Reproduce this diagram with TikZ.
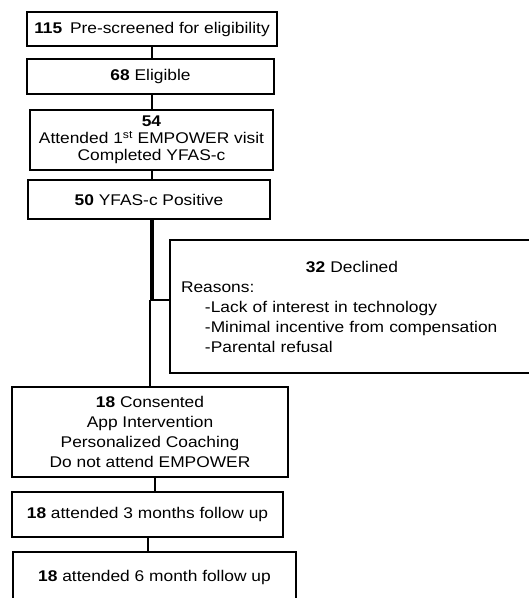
\documentclass[tikz,border=0pt]{standalone}
\usepackage{fontspec}
\setmainfont[FakeStretch=1.12]{Liberation Sans}
\begin{document}
\begin{tikzpicture}[x=1pt,y=-1pt,
  box/.style={draw, line width=2.3pt, align=center, inner sep=0pt,
    font=\fontsize{15.5}{20}\selectfont},
  link/.style={line width=1.6pt},
  thicklink/.style={line width=4.2pt}]
\useasboundingbox (0,0) rectangle (529,598);
\clip (0,0) rectangle (529,598);
\node[box, minimum width=250pt, minimum height=34pt] (b1) at (152,29)
  {\textbf{115}\enspace Pre-screened for eligibility};
\node[box, minimum width=247pt, minimum height=35pt] (b2) at (150.5,76.5)
  {\textbf{68} Eligible};
\node[box, minimum width=243pt, minimum height=60pt,
  font=\fontsize{15.5}{17}\selectfont] (b3) at (151.5,140)
  {\textbf{54}\\Attended 1\textsuperscript{st} EMPOWER visit\\Completed YFAS-c};
\node[box, minimum width=242pt, minimum height=39pt] (b4) at (149,199.5)
  {\textbf{50} YFAS-c Positive};
\node[box, minimum width=364pt, minimum height=133pt, text width=342pt,
  align=left] (dec) at (352,306.5)
  {\noindent\makebox[342pt]{\textbf{32} Declined}\\
   Reasons:\\
   \hspace*{24pt}-Lack of interest in technology\\
   \hspace*{24pt}-Minimal incentive from compensation\\
   \hspace*{24pt}-Parental refusal};
\node[box, minimum width=276pt, minimum height=90pt] (b5) at (150,432)
  {\textbf{18} Consented\\App Intervention\\Personalized Coaching\\Do not attend EMPOWER};
\node[box, minimum width=271pt, minimum height=45pt] (b6) at (147.5,514.5)
  {\textbf{18} attended 3 months follow up};
\node[box, minimum width=283pt, minimum height=50pt] (b7) at (154.5,577)
  {\textbf{18} attended 6 month follow up};
\coordinate (ax) at (152,0);
\draw[link] (b1.south -| ax) -- (b2.north -| ax);
\draw[link] (b2.south -| ax) -- (b3.north -| ax);
\draw[link] (b3.south -| ax) -- (b4.north -| ax);
\coordinate (j) at (152,300);
\coordinate (j2) at (150,300);
\draw[thicklink] (b4.south -| j) -- ([yshift=1pt]j);
\draw[link] (j2) -- (dec.west |- j2);
\draw[link] (j2) -- (b5.north -| j2);
\coordinate (ax5) at (155,0);
\draw[link] (b5.south -| ax5) -- (b6.north -| ax5);
\coordinate (ax6) at (148,0);
\draw[link] (b6.south -| ax6) -- (b7.north -| ax6);
\end{tikzpicture}
\end{document}
